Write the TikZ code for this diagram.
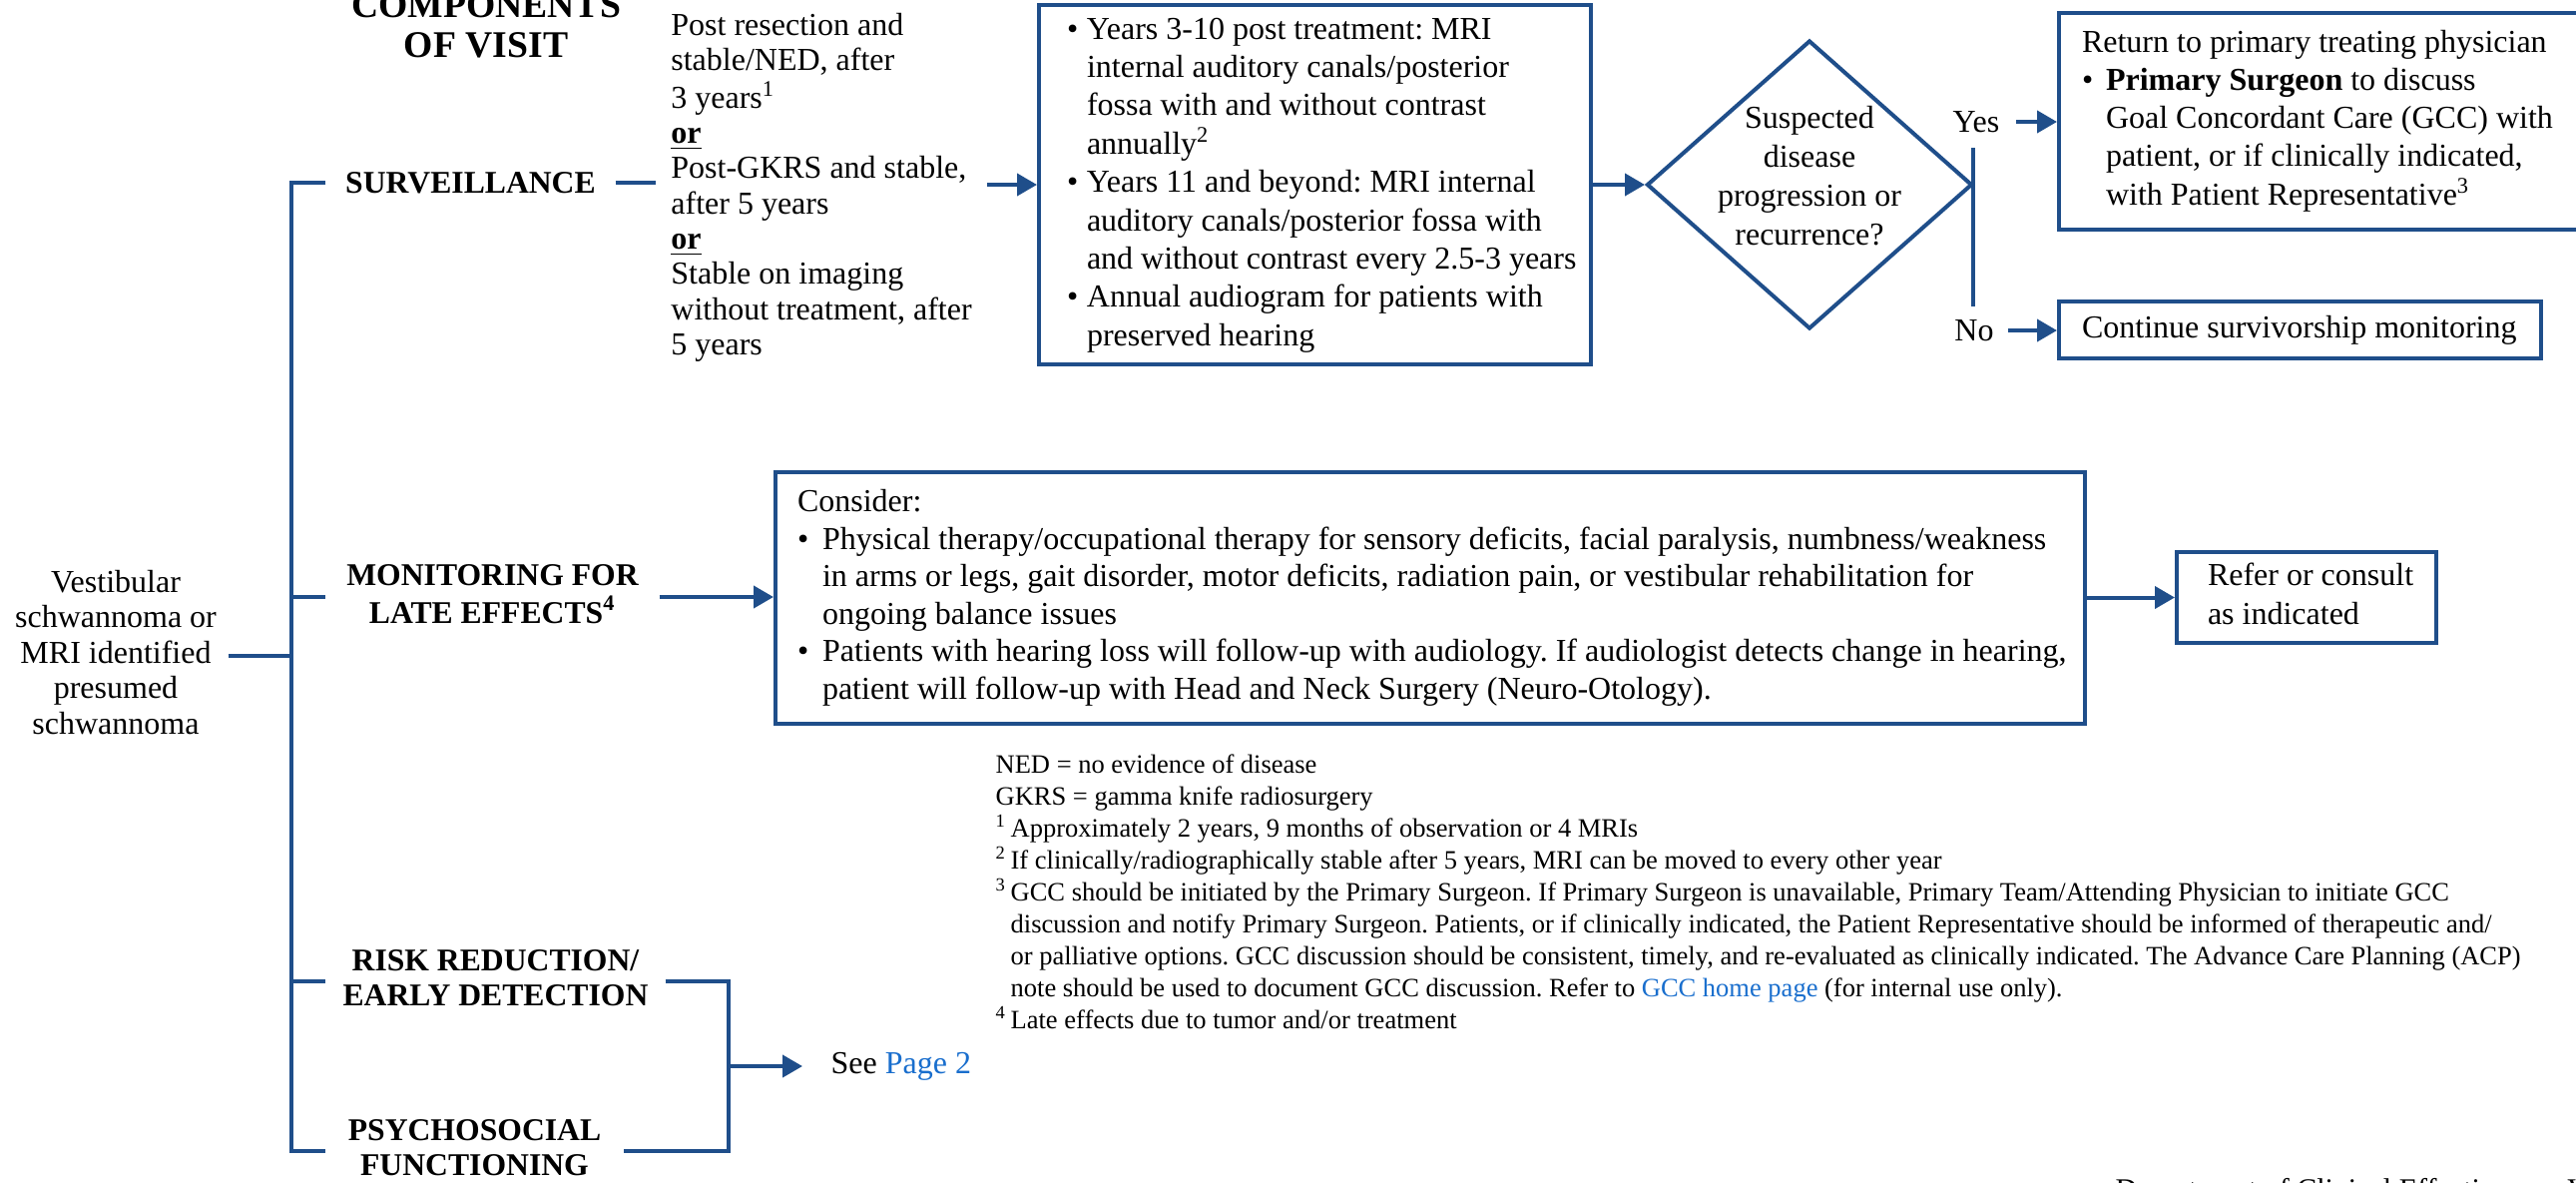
\documentclass[tikz,border=0pt]{standalone}
\usepackage{fontspec}
\setmainfont{Liberation Serif}
\usetikzlibrary{arrows.meta,shapes.geometric}
\definecolor{lblue}{RGB}{31,78,138}
\definecolor{linkblue}{RGB}{25,110,205}
\newcommand\tb[2]{{\renewcommand\arraystretch{1}\setlength\tabcolsep{0pt}\begin{tabular}{#1}#2\end{tabular}}}
\newcommand\bl[1]{\makebox[#1][l]{\textbullet}}
\newcommand\fnm[1]{\makebox[4.5pt][l]{\textsuperscript{#1}}}
\newcommand\bodyf[1]{\fontsize{9.6}{#1}\selectfont}
\newcommand\labf{\bfseries\fontsize{9.5}{10.7}\selectfont}
\frenchspacing
\begin{document}
\frenchspacing
\begin{tikzpicture}[x=0.3pt,y=-0.3pt,
  ln/.style={draw=lblue,line width=1.2pt},
  arr/.style={ln,-{Triangle[length=6pt,width=6.6pt]}},
  box/.style={draw=lblue,line width=1.2pt,rectangle,inner ysep=0pt},
  lab/.style={inner sep=0pt,font=\labf},
]
\useasboundingbox (0,0) rectangle (2581,1184);

% title
\node[inner sep=0pt,font=\bfseries\fontsize{11.3}{12}\selectfont] (title) at (487,29) {\tb{c}{COMPONENTS\\OF VISIT}};

% start node
\node[inner sep=0pt,minimum width=67.2pt,font=\bodyf{10.65}] (start) at (116,657)
  {\tb{c}{Vestibular\\schwannoma or\\MRI identified\\presumed\\schwannoma}};

% category labels
\node[lab,minimum width=86.7pt] (surv) at (471.5,183) {SURVEILLANCE};
\node[lab,minimum width=99.9pt] (mon) at (493.5,598) {\tb{c}{MONITORING FOR\\LATE EFFECTS\textsuperscript{4}}};
\node[lab,minimum width=101.7pt] (risk) at (496.5,983) {\tb{c}{RISK REDUCTION/\\EARLY DETECTION}};
\node[lab,minimum width=89.1pt] (psych) at (475.5,1153) {\tb{c}{PSYCHOSOCIAL\\FUNCTIONING}};

% surveillance conditions
\node[inner sep=0pt,minimum width=99pt,font=\bodyf{10.6}] (cond) at (823,188.5)
  {\tb{l}{Post resection and\\stable/NED, after\\3 years\textsuperscript{1}\\\textbf{\underline{or}}\\Post-GKRS and stable,\\after 5 years\\\textbf{\underline{or}}\\Stable on imaging\\without treatment, after\\5 years}};

% surveillance box
\node[box,minimum width=165.9pt,minimum height=108pt,inner xsep=8.4pt,font=\bodyf{11.5}] (survbox) at (1317.5,185)
  {\makebox[149.1pt][l]{\tb{ll}{\bl{6pt}&Years 3-10 post treatment: MRI\\
  &internal auditory canals/posterior\\
  &fossa with and without contrast\\
  &annually\textsuperscript{2}\\
  \bl{6pt}&Years 11 and beyond: MRI internal\\
  &auditory canals/posterior fossa with\\
  &and without contrast every 2.5-3 years\\
  \bl{6pt}&Annual audiogram for patients with\\
  &preserved hearing}}};

% decision
\node[draw=lblue,line width=1.2pt,diamond,minimum width=97.8pt,minimum height=86.7pt,inner sep=0pt] (dia) at (1813,185) {};
\node[inner sep=0pt,font=\bodyf{11.67}] (diat) at (1813,179) {\tb{c}{Suspected\\disease\\progression or\\recurrence?}};
\coordinate (vT) at (1977,148);
\coordinate (vB) at (1977,307);
\node[inner xsep=4.8pt,inner ysep=0pt,font=\bodyf{11.5}] (yes) at (1980,122) {Yes};
\node[inner xsep=4.2pt,inner ysep=0pt,font=\bodyf{11.5}] (no) at (1978,331) {No};

% outcome boxes
\node[box,minimum width=158.1pt,minimum height=65.1pt,inner xsep=6.9pt,font=\bodyf{11.4}] (ret) at (2326.5,121.5)
  {\makebox[144.3pt][l]{\tb{ll}{\multicolumn{2}{l}{Return to primary treating physician}\\
  \bl{7.2pt}&\textbf{Primary Surgeon} to discuss\\
  &Goal Concordant Care (GCC) with\\
  &patient, or if clinically indicated,\\
  &with Patient Representative\textsuperscript{3}}}};
\node[box,minimum width=144.9pt,minimum height=17.1pt,inner xsep=6.9pt,font=\bodyf{11.4}] (cont) at (2304.5,330.5)
  {\makebox[131.1pt][l]{Continue survivorship monitoring}};

% monitoring box
\node[box,minimum width=393.6pt,minimum height=75.6pt,inner xsep=6.6pt,font=\bodyf{11.28}] (monbox) at (1433,599)
  {\makebox[380.4pt][l]{\tb{ll}{\multicolumn{2}{l}{Consider:}\\
  \bl{7.5pt}&Physical therapy/occupational therapy for sensory deficits, facial paralysis, numbness/weakness\\
  &in arms or legs, gait disorder, motor deficits, radiation pain, or vestibular rehabilitation for\\
  &ongoing balance issues\\
  \bl{7.5pt}&Patients with hearing loss will follow-up with audiology. If audiologist detects change in hearing,\\
  &patient will follow-up with Head and Neck Surgery (Neuro-Otology).}}};
\node[box,minimum width=78pt,minimum height=27.3pt,inner xsep=9.3pt,font=\bodyf{11.7}] (refer) at (2311,598.5)
  {\makebox[59.4pt][l]{\tb{l}{Refer or consult\\as indicated}}};

% see page 2
\node[inner xsep=8.4pt,inner ysep=0pt,anchor=west,font=\bodyf{11.5}] (see) at (804,1068) {See \textcolor{linkblue}{Page 2}};

% footnotes
\node[inner sep=0pt,anchor=west,font=\fontsize{7.95}{9.6}\selectfont] (notes) at (997,895.6)
  {\tb{l}{NED = no evidence of disease\\
  GKRS = gamma knife radiosurgery\\
  \fnm{1}Approximately 2 years, 9 months of observation or 4 MRIs\\
  \fnm{2}If clinically/radiographically stable after 5 years, MRI can be moved to every other year\\
  \fnm{3}GCC should be initiated by the Primary Surgeon. If Primary Surgeon is unavailable, Primary Team/Attending Physician to initiate GCC\\
  \fnm{}discussion and notify Primary Surgeon. Patients, or if clinically indicated, the Patient Representative should be informed of therapeutic and/\\
  \fnm{}or palliative options. GCC discussion should be consistent, timely, and re-evaluated as clinically indicated. The Advance Care Planning (ACP)\\
  \fnm{}note should be used to document GCC discussion. Refer to \textcolor{linkblue}{GCC home page} (for internal use only).\\
  \fnm{4}Late effects due to tumor and/or treatment}};

% cut-off footer
\node[inner sep=0pt,anchor=base west,font=\fontsize{9}{10}\selectfont] (footer) at (2119,1201) {Department of Clinical Effectiveness V1};

% connectors
\coordinate (tT) at (292,183);
\coordinate (brx) at (730,983);
\coordinate (brM) at (730,1068);
\draw[ln] (surv.west) -- (surv.west -| tT) -- (psych.west -| tT) -- (psych.west);
\draw[ln] (mon.west -| tT) -- (mon.west);
\draw[ln] (risk.west -| tT) -- (risk.west);
\draw[ln] (start.east) -- (start.east -| tT);
\draw[ln] (risk.east) -- (risk.east -| brx) -- (psych.east -| brx) -- (psych.east);
\draw[arr] (brM) -- (see.west);
\draw[ln] (surv.east) -- (surv.east -| cond.west);
\draw[arr] (cond.east |- survbox.west) -- (survbox.west);
\draw[arr] (survbox.east) -- (dia.west);
\draw[ln] (vT) -- (vB);
\draw[arr] (yes.east) -- (yes.east -| ret.west);
\draw[arr] (no.east) -- (no.east -| cont.west);
\draw[arr] (mon.east) -- (mon.east -| monbox.west);
\draw[arr] (monbox.east) -- (monbox.east |- refer.west) -- (refer.west);
\end{tikzpicture}
\end{document}
